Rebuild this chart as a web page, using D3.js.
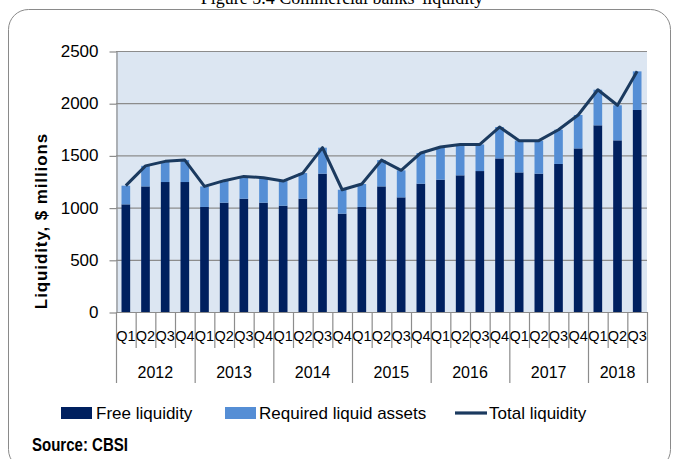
<!DOCTYPE html>
<html>
<head>
<meta charset="utf-8">
<script src="https://cdn.jsdelivr.net/npm/d3@7"></script>
<style>
  body { margin: 0; background: #fff; }
  text { font-family: "Liberation Sans", Arial, sans-serif; fill: #000; }
</style>
</head>
<body>
<div id="chart"></div>
<script>
// quarters 2012 Q1 .. 2018 Q3
var years = ["2012", "2013", "2014", "2015", "2016", "2017", "2018"];
var quarterNames = ["Q1", "Q2", "Q3", "Q4"];
var freeLiquidity = [1031, 1203, 1245, 1245, 1006, 1047, 1085, 1047, 1018, 1085, 1325, 942,
  1006, 1203, 1098, 1229, 1267, 1309, 1350, 1471, 1337, 1325, 1418, 1567, 1788, 1644, 1935];
var requiredAssets = [179, 197, 198, 210, 197, 211, 214, 239, 236, 246, 249, 229,
  220, 252, 259, 294, 313, 296, 255, 301, 304, 316, 328, 320, 341, 336, 370];
var yTicks = [0, 500, 1000, 1500, 2000, 2500];

// build rows
var data = [];
years.forEach(function(yr) {
  quarterNames.forEach(function(q) {
    if (data.length < freeLiquidity.length) {
      var i = data.length;
      data.push({ key: yr + q, year: yr, q: q, free: freeLiquidity[i], req: requiredAssets[i],
        total: freeLiquidity[i] + requiredAssets[i] });
    }
  });
});

var W = 673, H = 459;
var plot = { left: 116, right: 647, top: 51, bottom: 312 };

var svg = d3.select("#chart").append("svg")
  .attr("width", W).attr("height", H);

// title (cut at the top, as in the source page)
svg.append("text")
  .attr("x", 342).attr("y", 4)
  .attr("text-anchor", "middle")
  .style("font-family", "'Liberation Serif', 'Times New Roman', serif")
  .style("font-size", "18px")
  .text("Figure 5.4 Commercial banks' liquidity");

// frame
svg.append("rect")
  .attr("x", 8.5).attr("y", 9.5)
  .attr("width", 662).attr("height", 460)
  .attr("rx", 20)
  .attr("fill", "none")
  .attr("stroke", "#8a8a8a")
  .attr("stroke-width", 1);

var x = d3.scaleBand()
  .domain(data.map(function(d) { return d.key; }))
  .range([plot.left, plot.right])
  .paddingInner(0.56)
  .paddingOuter(0.28);

var y = d3.scaleLinear()
  .domain([0, 2500])
  .range([plot.bottom, plot.top]);

// plot background
svg.append("rect")
  .attr("x", plot.left).attr("y", plot.top)
  .attr("width", plot.right - plot.left).attr("height", plot.bottom - plot.top)
  .attr("fill", "#dce6f2");

// grid
svg.append("g").selectAll("line")
  .data(yTicks.slice(1))
  .enter().append("line")
  .attr("x1", plot.left).attr("x2", plot.right)
  .attr("y1", function(d) { return y(d) + 0.5; })
  .attr("y2", function(d) { return y(d) + 0.5; })
  .attr("stroke", "#8c8c8c")
  .attr("stroke-width", 1.2);

// y axis
var yAxis = svg.append("g")
  .attr("transform", "translate(" + (plot.left + 0.5) + ",0)")
  .call(d3.axisLeft(y).tickValues(yTicks).tickFormat(d3.format("d"))
    .tickSize(7).tickPadding(11).tickSizeOuter(0));
yAxis.select(".domain").attr("stroke", "#8c8c8c").attr("stroke-width", 1.2);
yAxis.selectAll(".tick line").attr("stroke", "#8c8c8c").attr("stroke-width", 1.2)
  .attr("transform", "translate(0,0.5)");
yAxis.selectAll(".tick text")
  .style("font-family", "'Liberation Sans', Arial, sans-serif")
  .style("font-size", "17px")
  .attr("fill", "#000");

// y axis title
svg.append("text")
  .attr("transform", "translate(47,221) rotate(-90)")
  .attr("text-anchor", "middle")
  .style("font-size", "17px")
  .style("font-weight", "bold")
  .style("letter-spacing", "0.9px")
  .text("Liquidity, $ millions");

// bars
var bars = svg.append("g");
bars.selectAll(".free")
  .data(data)
  .enter().append("rect")
  .attr("class", "free")
  .attr("x", function(d) { return x(d.key); })
  .attr("width", x.bandwidth())
  .attr("y", function(d) { return y(d.free); })
  .attr("height", function(d) { return y(0) - y(d.free); })
  .attr("fill", "#00205f");
bars.selectAll(".req")
  .data(data)
  .enter().append("rect")
  .attr("class", "req")
  .attr("x", function(d) { return x(d.key); })
  .attr("width", x.bandwidth())
  .attr("y", function(d) { return y(d.total); })
  .attr("height", function(d) { return y(d.free) - y(d.total); })
  .attr("fill", "#558ed5");

// total line
var line = d3.line()
  .x(function(d) { return x(d.key) + x.bandwidth() / 2; })
  .y(function(d) { return y(d.total); });
svg.append("path")
  .datum(data)
  .attr("d", line)
  .attr("fill", "none")
  .attr("stroke", "#1b3a5f")
  .attr("stroke-width", 3)
  .attr("stroke-linejoin", "round");

// x axis line
svg.append("line")
  .attr("x1", plot.left).attr("x2", plot.right + 1)
  .attr("y1", plot.bottom + 0.5).attr("y2", plot.bottom + 0.5)
  .attr("stroke", "#8c8c8c").attr("stroke-width", 1.2);

// category separators: quarters short, years long
var step = x.step();
var xStart = plot.left;
var sep = svg.append("g");
d3.range(data.length + 1).forEach(function(i) {
  var yearEdge = (i % 4 === 0) || i === data.length;
  sep.append("line")
    .attr("x1", xStart + i * step + 0.5).attr("x2", xStart + i * step + 0.5)
    .attr("y1", plot.bottom).attr("y2", yearEdge ? 383 : 348)
    .attr("stroke", "#8c8c8c").attr("stroke-width", 1.2);
});

// quarter labels
svg.append("g").selectAll("text")
  .data(data)
  .enter().append("text")
  .attr("x", function(d) { return x(d.key) + x.bandwidth() / 2; })
  .attr("y", 341)
  .attr("text-anchor", "middle")
  .style("font-size", "14.5px")
  .text(function(d) { return d.q; });

// year labels
svg.append("g").selectAll("text")
  .data(years)
  .enter().append("text")
  .attr("x", function(d, i) {
    var first = i * 4, last = Math.min(first + 4, data.length);
    return xStart + (first + last) / 2 * step;
  })
  .attr("y", 378)
  .attr("text-anchor", "middle")
  .style("font-size", "16px")
  .text(function(d) { return d; });

// legend
var legend = svg.append("g");
legend.append("rect").attr("x", 61).attr("y", 407).attr("width", 31).attr("height", 12).attr("fill", "#00205f");
legend.append("text").attr("x", 96).attr("y", 419).style("font-size", "17px").text("Free liquidity");
legend.append("rect").attr("x", 225).attr("y", 407).attr("width", 31).attr("height", 12).attr("fill", "#558ed5");
legend.append("text").attr("x", 259).attr("y", 419).style("font-size", "17px").text("Required liquid assets");
legend.append("line").attr("x1", 455).attr("x2", 487).attr("y1", 413).attr("y2", 413)
  .attr("stroke", "#1b3a5f").attr("stroke-width", 3.2);
legend.append("text").attr("x", 489).attr("y", 419).style("font-size", "17px").text("Total liquidity");

// source (narrow bold face in the original)
svg.append("text")
  .attr("x", 32).attr("y", 451)
  .attr("textLength", 96)
  .attr("lengthAdjust", "spacingAndGlyphs")
  .style("font-size", "18px")
  .style("font-weight", "bold")
  .text("Source: CBSI");
</script>
</body>
</html>
